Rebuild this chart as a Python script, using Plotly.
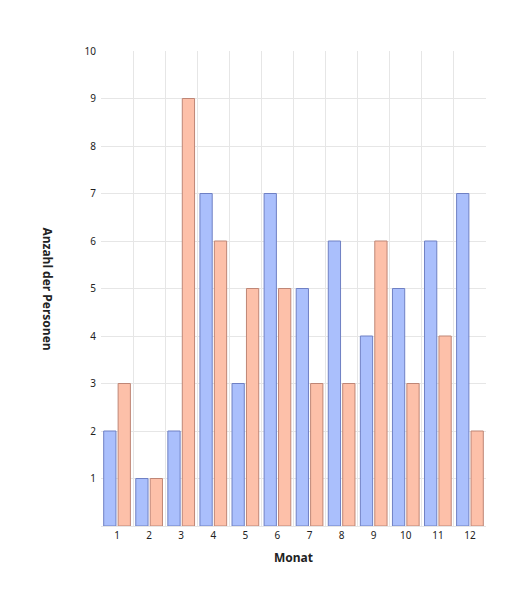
import plotly.graph_objects as go

months = list(range(1, 13))
series_a = [2, 1, 2, 7, 3, 7, 5, 6, 4, 5, 6, 7]
series_b = [3, 1, 9, 6, 5, 5, 3, 3, 6, 3, 4, 2]

fig = go.Figure()
fig.add_bar(x=months, y=series_a, marker=dict(color="#aabffc", line=dict(color="#6f80c4", width=1)), name="A")
fig.add_bar(x=months, y=series_b, marker=dict(color="#fdc0a9", line=dict(color="#bf8676", width=1)), name="B")
fig.update_layout(
    width=518, height=594, barmode="group", bargap=0.1, bargroupgap=0.15,
    plot_bgcolor="white", paper_bgcolor="white", showlegend=False,
    margin=dict(l=93, r=40, t=43, b=76, autoexpand=False),
    font=dict(family="Noto Sans", size=10, color="#222"),
    xaxis=dict(range=[0.5, 12.5], tickvals=months, showgrid=False, ticks="", automargin=False,
               minor=dict(tick0=0.5, dtick=1, showgrid=True, gridcolor="#e6e6e6"),
               title=dict(text="<b>Monat</b>", font=dict(size=12), standoff=12),
               showline=True, linecolor="#e6e6e6", zeroline=False),
    yaxis=dict(range=[0, 10], tickvals=list(range(1, 11)), gridcolor="#e6e6e6", automargin=False,
               zeroline=False, showline=False, ticklabelstandoff=4),
)
fig.add_annotation(text="<b>Anzahl der Personen</b>", textangle=90, showarrow=False,
                   xref="paper", yref="paper", x=-0.14, y=0.5, xanchor="center",
                   font=dict(size=12))
fig.write_html("out.html")
